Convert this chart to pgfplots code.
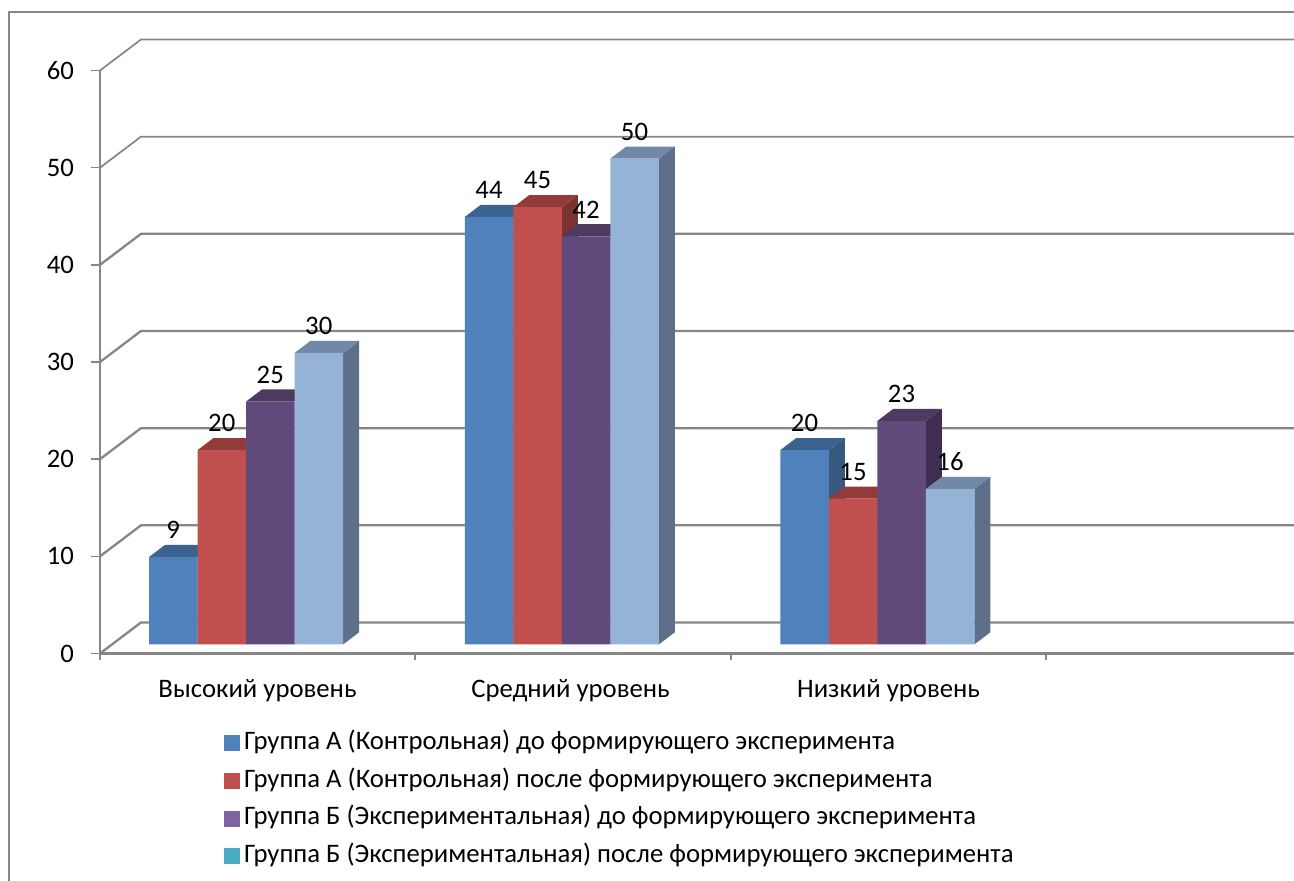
\documentclass[border=0pt]{standalone}
\usepackage{fontspec}
\setmainfont{Carlito}
\usepackage{pgfplots}
\usepackage{pgfplotstable}
\pgfplotsset{compat=1.18}
\newcommand\Fs{\fontsize{26.7}{32}\selectfont}
\definecolor{gc}{HTML}{868686}
\definecolor{fA}{HTML}{4F81BD}\definecolor{tA}{HTML}{3C6290}\definecolor{sA}{HTML}{37587F}
\definecolor{fB}{HTML}{C0504D}\definecolor{tB}{HTML}{923B39}\definecolor{sB}{HTML}{7C3230}
\definecolor{fC}{HTML}{604A7B}\definecolor{tC}{HTML}{4D3A5E}\definecolor{sC}{HTML}{3F2E52}
\definecolor{fD}{HTML}{95B3D7}\definecolor{tD}{HTML}{7188A8}\definecolor{sD}{HTML}{5E7089}
\definecolor{lD}{HTML}{4BACC6}\definecolor{lC}{HTML}{8064A2}
\pgfplotstableread{
x v
173.25 9
489 44
804.5 20
}\seriesA
\pgfplotstableread{
x v
221.75 20
537.5 45
853 15
}\seriesB
\pgfplotstableread{
x v
270.25 25
586 42
901.5 23
}\seriesC
\pgfplotstableread{
x v
318.75 30
634.5 50
950 16
}\seriesD
% side and top faces of one bar: centre x, value, letter of the series
\newcommand\faces[3]{%
  \pgfmathsetmacro\xa{#1-24.25}\pgfmathsetmacro\xb{#1+24.25}%
  \pgfmathsetmacro\xc{#1-8.25}\pgfmathsetmacro\xd{#1+40.25}%
  \pgfmathsetmacro\vb{#2+1.25}%
  \addplot[forget plot,fill=s#3,draw=none,yshift=9pt] coordinates {(\xb,0)(\xd,1.25)(\xd,\vb)(\xb,#2)} --cycle;
  \addplot[forget plot,fill=t#3,draw=none,yshift=9pt] coordinates {(\xa,#2)(\xb,#2)(\xd,\vb)(\xc,\vb)} --cycle;
}
\newcommand\fronts[2]{%
  \addplot[forget plot,ybar,bar width=48.5pt,bar shift=0pt,fill=f#1,draw=none,yshift=9pt,
    nodes near coords,
    every node near coord/.append style={font=\Fs,text=black,anchor=center,yshift=27pt,inner sep=0pt}]
    table[x=x,y=v] {#2};
}
\begin{document}
\begin{tikzpicture}[x=1pt,y=1pt]
\path[use as bounding box] (0,0) rectangle (1294,881);
\clip (0,0) rectangle (1294,881);
\draw[gc,line width=2pt] (8.5,-5) -- (8.5,868.5) -- (1300,868.5);
\begin{axis}[
  at={(100pt,227.5pt)},anchor=south west,
  scale only axis,width=1194pt,height=583pt,
  xmin=100,xmax=1294,ymin=0,ymax=60,
  clip=false,
  axis lines=left,
  axis line style={-,draw=gc,line width=2.2pt},
  tick align=outside,
  every tick/.style={gc,line width=1.5pt},
  major tick length=9pt,
  minor tick length=7pt,
  ytick={0,10,20,30,40,50,60},
  xtick={257.5,570.5,888.5},
  xticklabels={Высокий уровень,Средний уровень,Низкий уровень},
  minor xtick={100,415,731,1046},
  major x tick style={draw=none},
  tick label style={font=\Fs,text=black},
  yticklabel style={xshift=-13.5pt},
  xticklabel style={yshift=-13pt},
  /pgf/number format/assume math mode=true,
  legend style={at={(124pt,-77pt)},anchor=north west,draw=none,fill=none,font=\Fs,
    row sep=12.7pt,inner sep=0pt,outer sep=0pt,
    nodes={inner sep=0pt,text height=19pt,text depth=6pt},
    /tikz/every odd column/.append style={column sep=5pt}},
  legend cell align=left,
]
% walls: gridlines from the front of the left wall to the back wall
\addplot[forget plot,gc,line width=2.3pt] coordinates {(100,0)(141,3.19)(1294,3.19)};
\addplot[forget plot,gc,line width=2.3pt] coordinates {(100,10)(141,13.19)(1294,13.19)};
\addplot[forget plot,gc,line width=2.3pt] coordinates {(100,20)(141,23.19)(1294,23.19)};
\addplot[forget plot,gc,line width=2.3pt] coordinates {(100,30)(141,33.19)(1294,33.19)};
\addplot[forget plot,gc,line width=2.3pt] coordinates {(100,40)(141,43.19)(1294,43.19)};
\addplot[forget plot,gc,line width=1.7pt] coordinates {(100,50)(141,53.19)(1294,53.19)};
\addplot[forget plot,gc,line width=1.7pt] coordinates {(100,60)(141,63.19)(1294,63.19)};
% series
\faces{173.25}{9}{A}\faces{489}{44}{A}\faces{804.5}{20}{A}
\fronts{A}{\seriesA}
\faces{221.75}{20}{B}\faces{537.5}{45}{B}\faces{853}{15}{B}
\fronts{B}{\seriesB}
\faces{270.25}{25}{C}\faces{586}{42}{C}\faces{901.5}{23}{C}
\fronts{C}{\seriesC}
\faces{318.75}{30}{D}\faces{634.5}{50}{D}\faces{950}{16}{D}
\fronts{D}{\seriesD}
\addlegendimage{only marks,mark=square*,mark size=7.5pt,color=fA}
\addlegendentry{Группа А (Контрольная) до формирующего эксперимента}
\addlegendimage{only marks,mark=square*,mark size=7.5pt,color=fB}
\addlegendentry{Группа А (Контрольная) после формирующего эксперимента}
\addlegendimage{only marks,mark=square*,mark size=7.5pt,color=lC}
\addlegendentry{Группа Б (Экспериментальная) до формирующего эксперимента}
\addlegendimage{only marks,mark=square*,mark size=7.5pt,color=lD}
\addlegendentry{Группа Б (Экспериментальная) после формирующего эксперимента}
\end{axis}
\end{tikzpicture}
\end{document}
